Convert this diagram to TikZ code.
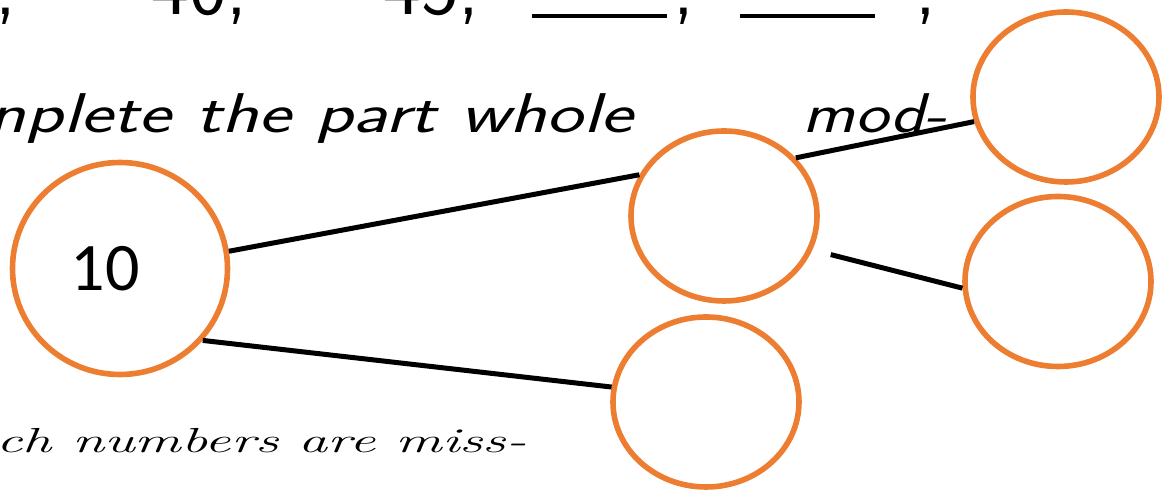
\documentclass[tikz,border=0pt]{standalone}
\usepackage{fontspec}
\usepackage{graphicx}
\usepackage{xcolor}
\usetikzlibrary{shapes.geometric}
\newfontfamily\numfont{Carlito}
\definecolor{pwOrange}{HTML}{ED7D31}
\newcommand{\gapline}{\rule[-1.5pt]{67.5pt}{2pt}}

\begin{document}
\begin{tikzpicture}[x=0.5pt,y=-0.5pt,
  pw/.style={ellipse,draw=pwOrange,line width=2.8pt,inner sep=0pt,minimum width=93pt,minimum height=85pt},
  link/.style={line width=2.5pt},
  seq/.style={inner sep=0pt,font=\sffamily\fontsize{40}{40}\selectfont},
  hand/.style={inner sep=0pt,font=\sffamily\itshape\fontsize{28}{28}\selectfont}]
\useasboundingbox (0,0) rectangle (1164,490);
% sequence row, cut off at the top
\node[seq,anchor=base east] (s0) at (17,15) {,};
\node[seq,anchor=base east] (s40) at (248,15) {40,};
\node[seq,anchor=base east] (s45) at (480,15) {45,};
\node[seq,anchor=base west] (gapA) at (532,15) {\gapline\kern3pt,};
\node[seq,anchor=base west] (gapB) at (740,15) {\gapline};
\node[seq,anchor=base east] (s1) at (937,15) {,};
% instructions
\node[hand,anchor=base east] (task) at (633,133) {\resizebox{322pt}{\height}{nplete the part whole}};
\node[hand,anchor=base west] (modl) at (802,133) {\resizebox{72pt}{\height}{mod-}};
\node[inner sep=0pt,anchor=base east,font=\itshape\fontsize{17.4}{17.4}\selectfont] (miss) at (527,453)
  {\resizebox{265pt}{\height}{ch numbers are miss-}};
% part whole model
\node[pw,minimum width=107.5pt,minimum height=106pt] (whole) at (120,268.5) {};
\node[inner sep=0pt,font=\numfont\fontsize{34}{34}\selectfont] (val) at (105,268.5) {10};
\foreach \n/\x/\y in {mid/724/216,bot/706/402,tr/1066/97,br/1058/281.5} {
  \node[pw] (\n) at (\x,\y) {};
}
\draw[link] (whole.9) -- (mid.154);
\draw[link] (whole.-41.5) -- (bot.171);
\draw[link] (mid.39.5) -- (tr.195.6);
\draw[link,shorten <=9.5pt] (mid.-21) -- (br.184);
\end{tikzpicture}
\end{document}
